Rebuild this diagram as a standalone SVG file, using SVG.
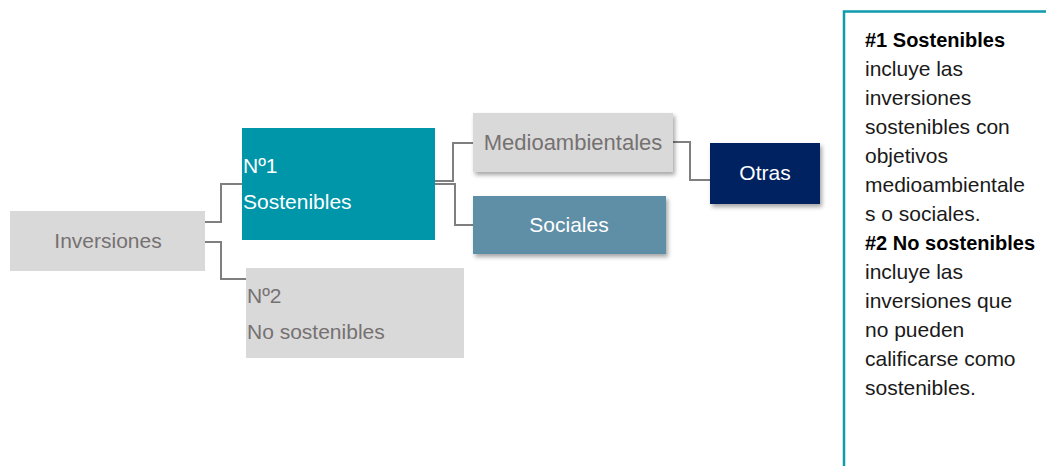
<svg xmlns="http://www.w3.org/2000/svg" width="1046" height="466" viewBox="0 0 1046 466">
<defs>
<style>
text{font-family:"Liberation Sans",Arial,sans-serif;font-size:21px}
.grey{fill:#d9d9d9}
.gt{fill:#767171}
.wt{fill:#ffffff}
.c{text-anchor:middle}
.conn{fill:none;stroke:#7f7f7f;stroke-width:2}
.pb{font-size:21px;fill:#1a1a1a}
.ph{font-weight:bold;fill:#000;font-size:20px}
</style>
<filter id="sh" x="-10%" y="-20%" width="130%" height="160%">
<feDropShadow dx="2" dy="3" stdDeviation="2" flood-color="#000" flood-opacity="0.35"/>
</filter>
</defs>
<rect width="1046" height="466" fill="#ffffff"/>
<g id="connectors">
<path class="conn" d="M205,222 H221 V184 H242"/>
<path class="conn" d="M205,242 H221 V279 H246"/>
<path class="conn" d="M435,181 H453 V143 H473"/>
<path class="conn" d="M435,184 H455 V225 H473"/>
<path class="conn" d="M673,142 H690 V180 H710"/>
</g>
<g id="inversiones">
<rect class="grey" x="10" y="211" width="195" height="60"/>
<text class="gt c" x="108" y="248">Inversiones</text>
</g>
<g id="n1">
<rect x="242" y="128" width="193" height="112" fill="#0096a9"/>
<text class="wt" x="243" y="173">Nº1</text>
<text class="wt" x="243" y="209">Sostenibles</text>
</g>
<g id="n2">
<rect class="grey" x="246" y="268" width="218" height="90"/>
<text class="gt" x="247" y="303">Nº2</text>
<text class="gt" x="247" y="339">No sostenibles</text>
</g>
<g id="medioambientales">
<rect class="grey" x="473" y="113" width="200" height="59" filter="url(#sh)"/>
<text class="gt c" x="573" y="150" style="font-size:22px">Medioambientales</text>
</g>
<g id="sociales">
<rect x="473" y="196" width="193" height="58" fill="#5f8fa6" filter="url(#sh)"/>
<text class="wt c" x="569" y="232">Sociales</text>
</g>
<g id="otras">
<rect x="710" y="143" width="110" height="61" fill="#002060" filter="url(#sh)"/>
<text class="wt c" x="765" y="180">Otras</text>
</g>
<g id="panel">
<path d="M844,466 V11.5 H1046" fill="none" stroke="#0e9cad" stroke-width="2.5"/>
<text class="pb" x="865">
<tspan class="ph" x="865" y="47">#1 Sostenibles</tspan>
<tspan x="865" y="76">incluye las</tspan>
<tspan x="865" y="105">inversiones</tspan>
<tspan x="865" y="134">sostenibles con</tspan>
<tspan x="865" y="163">objetivos</tspan>
<tspan x="865" y="192">medioambientale</tspan>
<tspan x="865" y="221">s o sociales.</tspan>
<tspan class="ph" x="865" y="250">#2 No sostenibles</tspan>
<tspan x="865" y="279">incluye las</tspan>
<tspan x="865" y="308">inversiones que</tspan>
<tspan x="865" y="337">no pueden</tspan>
<tspan x="865" y="366">calificarse como</tspan>
<tspan x="865" y="395">sostenibles.</tspan>
</text>
</g>
</svg>
